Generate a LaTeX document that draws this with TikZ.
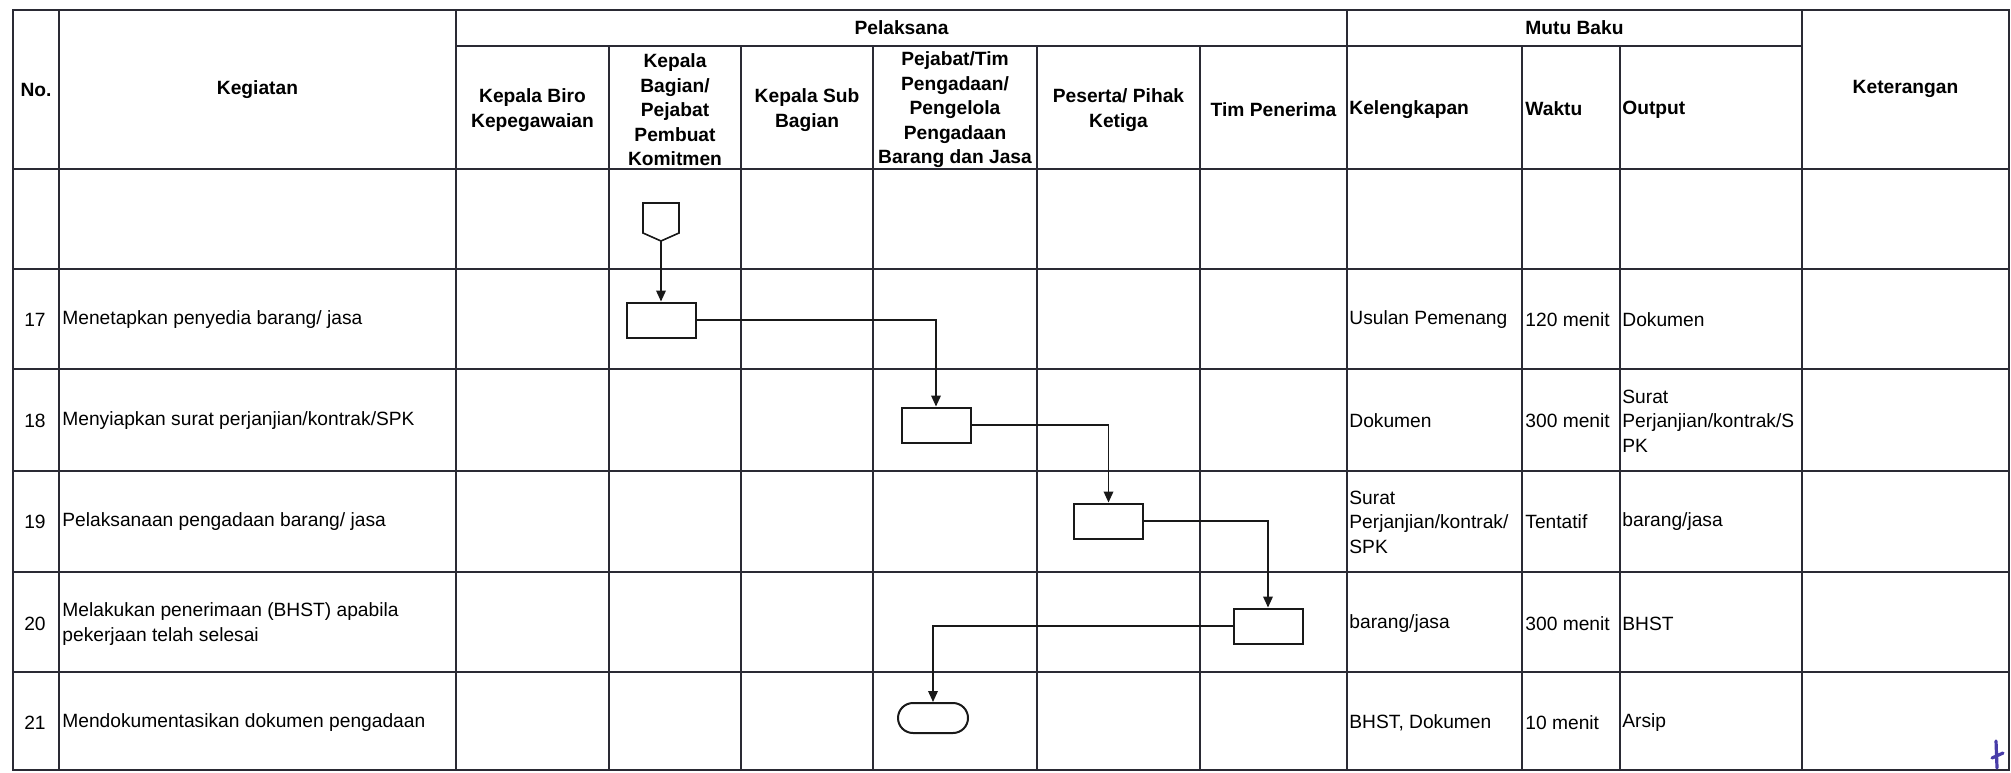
\documentclass[tikz,border=0pt]{standalone}
\usepackage{fontspec}
\setmainfont{Liberation Sans}
\usetikzlibrary{arrows.meta,shapes.misc}

\definecolor{linecol}{RGB}{42,42,52}
\definecolor{inkblue}{RGB}{72,60,168}

\begin{document}
\begin{tikzpicture}[x=0.5pt, y=-0.5pt,
	tabline/.style={line width=1pt, draw=linecol},
	headtxt/.style={font=\fontsize{9.6}{12.25}\selectfont\bfseries, align=center, inner sep=0pt},
	numtxt/.style={font=\fontsize{9.6}{12.25}\selectfont, inner sep=0pt},
	celltxt/.style={font=\fontsize{9.6}{12.25}\selectfont, align=left, anchor=west, inner sep=0pt},
	hcell/.style={headtxt, align=left, anchor=west},
	proses/.style={draw=black!90, line width=1pt, minimum width=34.5pt, minimum height=17.5pt, inner sep=0pt},
	akhir/.style={draw=black!90, rounded rectangle, line width=1pt, minimum width=35pt, minimum height=15pt, inner sep=0pt},
	alur/.style={-{Triangle[length=5.5pt,width=4.8pt]}, line width=0.8pt, draw=black!90}]
	\useasboundingbox (0,0) rectangle (2011,772);

	% table
	\draw[tabline] (13,10) rectangle (2009,770);
	\draw[tabline] (456,46) -- (1802,46);
	\draw[tabline] (13,169) -- (2009,169) (13,269) -- (2009,269) (13,369) -- (2009,369)
		(13,471) -- (2009,471) (13,572) -- (2009,572) (13,672) -- (2009,672);
	\draw[tabline] (59,10) -- (59,770) (456,10) -- (456,770) (1347,10) -- (1347,770) (1802,10) -- (1802,770);
	\draw[tabline] (609,46) -- (609,770) (741,46) -- (741,770) (873,46) -- (873,770)
		(1037,46) -- (1037,770) (1200,46) -- (1200,770) (1522,46) -- (1522,770) (1620,46) -- (1620,770);

	% header
	\node[headtxt] (hno) at (36,90) {No.};
	\node[headtxt] (hkeg) at (257.5,90) {Kegiatan};
	\node[headtxt] (hpel) at (901.5,28) {Pelaksana};
	\node[headtxt] (hmutu) at (1574.5,28) {Mutu Baku};
	\node[headtxt] (hket) at (1905.5,89) {Keterangan};
	\node[headtxt] (hbiro) at (532.5,110) {Kepala Biro\\Kepegawaian};
	\node[headtxt] (hbag) at (675,110) {Kepala\\Bagian/\\Pejabat\\Pembuat\\Komitmen};
	\node[headtxt] (hsub) at (807,110) {Kepala Sub\\Bagian};
	\node[headtxt] (hpbj) at (955,110) {Pejabat/Tim\\Pengadaan/\\Pengelola\\Pengadaan\\Barang dan Jasa};
	\node[headtxt] (hpst) at (1118.5,110) {Peserta/ Pihak\\Ketiga};
	\node[headtxt] (htim) at (1273.5,110) {Tim Penerima};
	\node[hcell] (hkel) at (1349,110) {Kelengkapan};
	\node[hcell] (hwkt) at (1525,109) {Waktu};
	\node[hcell] (hout) at (1622,110) {Output};

	% rows
	\node[numtxt] (n17) at (35,320) {17};
	\node[celltxt] (k17) at (62,320) {Menetapkan penyedia barang/ jasa};
	\node[celltxt] (kl17) at (1349,320) {Usulan Pemenang};
	\node[celltxt] (w17) at (1525,320) {120 menit};
	\node[celltxt] (o17) at (1622,320) {Dokumen};

	\node[numtxt] (n18) at (35,421) {18};
	\node[celltxt] (k18) at (62,421) {Menyiapkan surat perjanjian/kontrak/SPK};
	\node[celltxt] (kl18) at (1349,421) {Dokumen};
	\node[celltxt] (w18) at (1525,421) {300 menit};
	\node[celltxt] (o18) at (1622,421) {Surat\\Perjanjian/kontrak/S\\PK};

	\node[numtxt] (n19) at (35,522) {19};
	\node[celltxt] (k19) at (62,522) {Pelaksanaan pengadaan barang/ jasa};
	\node[celltxt] (kl19) at (1349,522) {Surat\\Perjanjian/kontrak/\\SPK};
	\node[celltxt] (w19) at (1525,522) {Tentatif};
	\node[celltxt] (o19) at (1622,522) {barang/jasa};

	\node[numtxt] (n20) at (35,624) {20};
	\node[celltxt] (k20) at (62,624) {Melakukan penerimaan (BHST) apabila\\pekerjaan telah selesai};
	\node[celltxt] (kl20) at (1349,624) {barang/jasa};
	\node[celltxt] (w20) at (1525,624) {300 menit};
	\node[celltxt] (o20) at (1622,624) {BHST};

	\node[numtxt] (n21) at (35,723) {21};
	\node[celltxt] (k21) at (62,723) {Mendokumentasikan dokumen pengadaan};
	\node[celltxt] (kl21) at (1349,723) {BHST, Dokumen};
	\node[celltxt] (w21) at (1525,723) {10 menit};
	\node[celltxt] (o21) at (1622,723) {Arsip};

	% flow
	\draw[line width=0.8pt, draw=black!90] (643,203) -- (679,203) -- (679,233) -- (661,241) -- (643,233) -- cycle;
	\coordinate (offpg) at (661,241);
	\node[proses] (b17) at (661,320) {};
	\node[proses] (b18) at (936,425) {};
	\node[proses] (b19) at (1108.5,521) {};
	\node[proses] (b20) at (1268,626) {};
	\node[akhir] (t21) at (933,718) {};

	\draw[alur] (offpg) -- (b17);
	\draw[alur] (b17) -| (b18);
	\draw[alur] (b18) -| (b19);
	\draw[alur] (b19) -| (b20);
	\draw[alur] (b20) -| (t21);

	% paraf
	\draw[inkblue, line width=1.6pt, line cap=round] (1996,741) -- (1997,768) (1992,758) -- (2003,753);
\end{tikzpicture}
\end{document}
